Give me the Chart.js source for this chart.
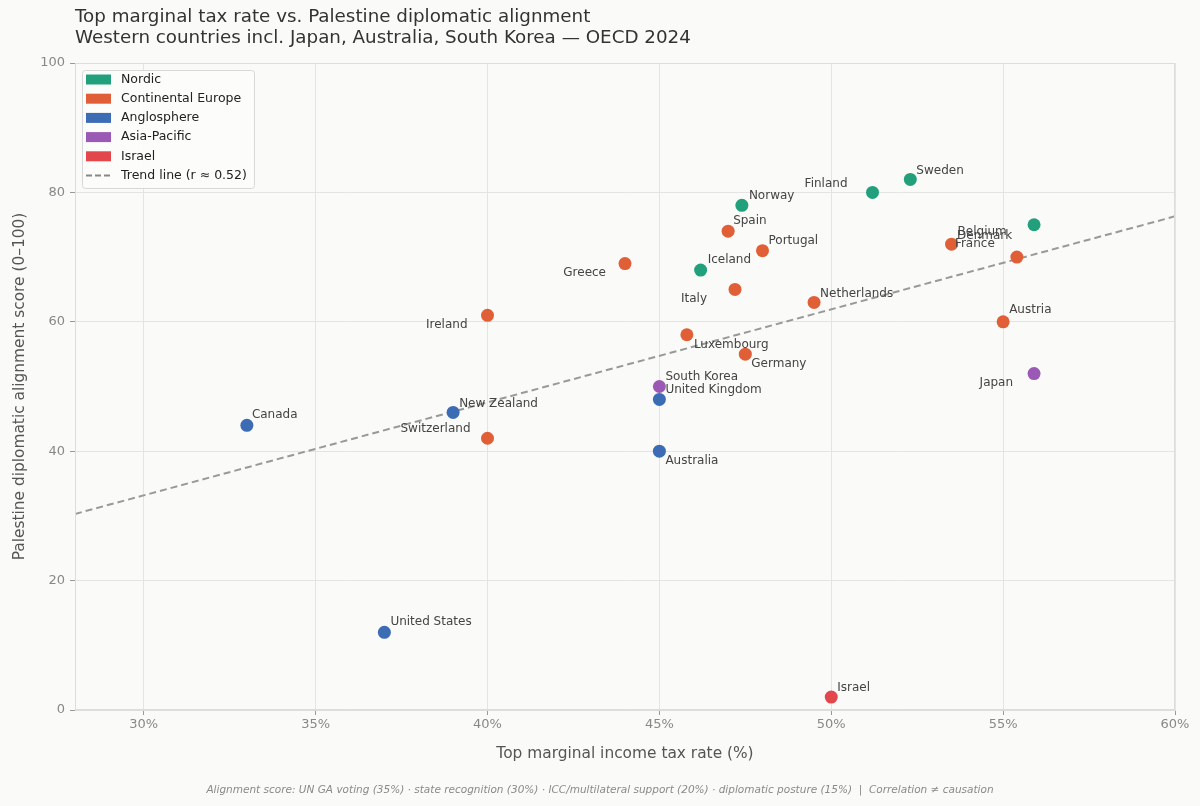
<!DOCTYPE html>
<html>
<head>
<meta charset="utf-8">
<script src="https://cdn.jsdelivr.net/npm/chart.js@4"></script>
<style>
  html, body { margin: 0; padding: 0; background: #fafaf8; }
  #wrap { width: 1200px; height: 806px; }
</style>
</head>
<body>
<div id="wrap"><canvas id="c" width="1200" height="806"></canvas></div>
<script>
// ---- data ----
const countries = ["Canada","United States","New Zealand","Switzerland","Ireland","Greece","Luxembourg","South Korea","United Kingdom","Australia","Iceland","Italy","Spain","Norway","Germany","Portugal","Netherlands","Finland","Sweden","Belgium","Denmark","France","Austria","Japan","Israel"];
const taxRate = [33, 37, 39, 40, 40, 44, 45.8, 45, 45, 45, 46.2, 47.2, 47, 47.4, 47.5, 48, 49.5, 51.2, 52.3, 53.5, 55.9, 55.4, 55, 55.9, 50];
const alignScore = [44, 12, 46, 42, 61, 69, 58, 50, 48, 40, 68, 65, 74, 78, 55, 71, 63, 80, 82, 72, 75, 70, 60, 52, 2];
const region = ["Anglosphere","Anglosphere","Anglosphere","Continental Europe","Continental Europe","Continental Europe","Continental Europe","Asia-Pacific","Anglosphere","Anglosphere","Nordic","Continental Europe","Continental Europe","Nordic","Continental Europe","Continental Europe","Continental Europe","Nordic","Nordic","Continental Europe","Nordic","Continental Europe","Continental Europe","Asia-Pacific","Israel"];
const groups = ["Nordic","Continental Europe","Anglosphere","Asia-Pacific","Israel"];
const trendX = [28, 60];
const trendY = [30.3, 76.3];
const trendLabel = "Trend line (r \u2248 0.52)";
const xTicks = [30, 35, 40, 45, 50, 55, 60];
const yTicks = [0, 20, 40, 60, 80, 100];

// ---- styles ----
const groupColors = {
  "Nordic": "#21a07b",
  "Continental Europe": "#e05f36",
  "Anglosphere": "#3b6cb4",
  "Asia-Pacific": "#9b59b6",
  "Israel": "#e2474c"
};
// label offsets relative to point centre: [dx, dy, align]
const labelOffsets = {
  "Canada": [5, -10, "left"],
  "United States": [6, -10, "left"],
  "New Zealand": [6, -9, "left"],
  "Switzerland": [-17, -9, "right"],
  "Ireland": [-20, 10, "right"],
  "Greece": [-19, 9, "right"],
  "Luxembourg": [7, 10, "left"],
  "South Korea": [6, -10, "left"],
  "United Kingdom": [6, -10, "left"],
  "Australia": [6, 10, "left"],
  "Iceland": [7, -10, "left"],
  "Italy": [-28, 9, "right"],
  "Spain": [5, -10, "left"],
  "Norway": [7, -9, "left"],
  "Germany": [6, 10, "left"],
  "Portugal": [6, -10, "left"],
  "Netherlands": [6, -9, "left"],
  "Finland": [-25, -9, "right"],
  "Sweden": [6, -9, "left"],
  "Belgium": [6, -12, "left"],
  "Denmark": [-77, 11, "left"],
  "France": [-62, -13, "left"],
  "Austria": [6, -12, "left"],
  "Japan": [-21, 9, "right"],
  "Israel": [6, -9, "left"]
};
const FONT = "'DejaVu Sans', sans-serif";

const datasets = groups.map(g => ({
  type: 'scatter',
  label: g,
  data: countries.map((c, i) => ({x: taxRate[i], y: alignScore[i], r: region[i]})).filter(p => p.r === g),
  backgroundColor: groupColors[g],
  borderColor: groupColors[g],
  borderWidth: 0,
  pointRadius: 6.5,
  pointHoverRadius: 6.5,
  order: 1
}));
datasets.unshift({
  type: 'line',
  label: trendLabel,
  data: trendX.map((x, i) => ({x: x, y: trendY[i]})),
  borderColor: '#999999',
  borderWidth: 2,
  borderDash: [7, 4],
  pointRadius: 0,
  fill: false,
  order: 2
});

const bgPlugin = {
  id: 'bg',
  beforeDraw(chart) {
    const ctx = chart.ctx;
    ctx.save();
    ctx.fillStyle = '#fafaf8';
    ctx.fillRect(0, 0, chart.width, chart.height);
    ctx.restore();
  },
  afterDraw(chart) {
    const ctx = chart.ctx;
    const a = chart.chartArea;
    ctx.save();
    // frame
    ctx.strokeStyle = '#dddddd';
    ctx.lineWidth = 1;
    ctx.strokeRect(a.left + 0.5, a.top + 0.5, a.right - a.left - 1, a.bottom - a.top - 1);
    // titles
    ctx.fillStyle = '#333333';
    ctx.font = "18.3px " + FONT;
    ctx.textAlign = 'left';
    ctx.textBaseline = 'middle';
    ctx.fillText("Top marginal tax rate vs. Palestine diplomatic alignment", 75, 17.5);
    ctx.fillText("Western countries incl. Japan, Australia, South Korea \u2014 OECD 2024", 75, 38.5);
    // footer
    ctx.fillStyle = '#8a8a8a';
    ctx.font = "italic 10.5px " + FONT;
    ctx.textAlign = 'center';
    ctx.fillText("Alignment score: UN GA voting (35%) \u00b7 state recognition (30%) \u00b7 ICC/multilateral support (20%) \u00b7 diplomatic posture (15%)  |  Correlation \u2260 causation", 600, 790);
    // legend
    const lx = 82, ly = 70, lw = 172, lh = 118;
    ctx.fillStyle = 'rgba(252,252,251,0.9)';
    ctx.strokeStyle = '#d8d8d8';
    ctx.beginPath();
    if (ctx.roundRect) ctx.roundRect(lx + 0.5, ly + 0.5, lw, lh, 3); else ctx.rect(lx + 0.5, ly + 0.5, lw, lh);
    ctx.fill();
    ctx.stroke();
    ctx.font = "12.5px " + FONT;
    ctx.textAlign = 'left';
    ctx.textBaseline = 'middle';
    groups.forEach((g, k) => {
      const yy = 79.5 + k * 19.2;
      ctx.fillStyle = groupColors[g];
      ctx.fillRect(86, yy - 5, 25, 10);
      ctx.fillStyle = '#222222';
      ctx.fillText(g, 121, yy);
    });
    const ty = 79.5 + 5 * 19.2;
    ctx.strokeStyle = '#888888';
    ctx.lineWidth = 1.8;
    ctx.setLineDash([6, 3]);
    ctx.beginPath();
    ctx.moveTo(86, ty);
    ctx.lineTo(111, ty);
    ctx.stroke();
    ctx.setLineDash([]);
    ctx.fillStyle = '#222222';
    ctx.fillText(trendLabel, 121, ty);
    ctx.restore();
  }
};

const labelPlugin = {
  id: 'pointLabels',
  afterDatasetsDraw(chart) {
    const ctx = chart.ctx;
    const xs = chart.scales.x, ys = chart.scales.y;
    ctx.save();
    ctx.font = "12px " + FONT;
    ctx.fillStyle = '#444444';
    ctx.textBaseline = 'middle';
    countries.forEach((c, i) => {
      const off = labelOffsets[c] || [6, -10, 'left'];
      const px = xs.getPixelForValue(taxRate[i]);
      const py = ys.getPixelForValue(alignScore[i]);
      ctx.textAlign = off[2];
      ctx.fillText(c, px + off[0], py + off[1]);
    });
    ctx.restore();
  }
};

new Chart(document.getElementById('c'), {
  type: 'scatter',
  data: { datasets: datasets },
  options: {
    responsive: false,
    animation: false,
    devicePixelRatio: 1,
    layout: { padding: { top: 63, left: 0, right: 25, bottom: 26 } },
    plugins: {
      legend: { display: false },
      title: { display: false },
      tooltip: { enabled: false }
    },
    events: [],
    scales: {
      x: {
        type: 'linear',
        min: 28, max: 60,
        afterBuildTicks(s) { s.ticks = xTicks.map(v => ({value: v})); },
        afterFit(s) { s.height = 70; },
        ticks: {
          color: '#888888',
          font: { family: FONT, size: 13 },
          padding: 2,
          callback: v => v + '%'
        },
        grid: { color: '#e4e4e4', tickColor: '#999999', tickLength: 5, lineWidth: 1 },
        border: { color: '#dddddd' },
        title: {
          display: true,
          text: 'Top marginal income tax rate (%)',
          color: '#555555',
          font: { family: FONT, size: 15.4 },
          padding: { top: 0, bottom: 17 }
        }
      },
      y: {
        type: 'linear',
        min: 0, max: 100,
        afterBuildTicks(s) { s.ticks = yTicks.map(v => ({value: v})); },
        afterFit(s) { s.width = 75; },
        ticks: {
          color: '#888888',
          font: { family: FONT, size: 13 },
          padding: 5
        },
        grid: { color: '#e4e4e4', tickColor: '#999999', tickLength: 5, lineWidth: 1 },
        border: { color: '#dddddd' },
        title: {
          display: true,
          text: 'Palestine diplomatic alignment score (0\u2013100)',
          color: '#555555',
          font: { family: FONT, size: 15.4 },
          padding: { top: 11, bottom: 0 }
        }
      }
    }
  },
  plugins: [bgPlugin, labelPlugin]
});
</script>
</body>
</html>
